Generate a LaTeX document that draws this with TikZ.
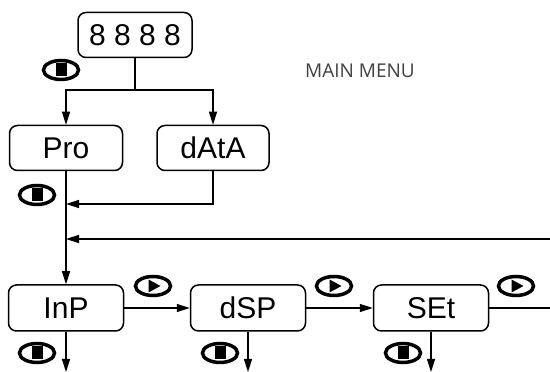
\documentclass[tikz,border=0pt]{standalone}
\usepackage{fontspec}
\setmainfont{Liberation Sans}
\newfontfamily\menufont{Open Sans}
\usetikzlibrary{shapes.geometric, arrows.meta, positioning}

\begin{document}
\begin{tikzpicture}[x=1pt, y=1pt,
  dbox/.style={draw, line width=1.5pt, rounded corners=8pt, minimum width=114pt, minimum height=45pt, inner sep=0pt, font=\fontsize{30}{32}\selectfont},
  wire/.style={line width=1.5pt},
  arr/.style={wire, -{Triangle[length=13pt, width=8pt]}},
  keybtn/.style={draw, ellipse, line width=3.5pt, minimum width=35pt, minimum height=19pt, inner sep=0pt},
  stopkey/.style={keybtn, path picture={\fill ([shift={(-5.5pt,-6.5pt)}]path picture bounding box.center) rectangle ++(11pt,13pt);}},
  playkey/.style={keybtn, path picture={\fill ([shift={(-4.5pt,-6.5pt)}]path picture bounding box.center) -- ++(0,13pt) -- ++(12pt,-6.5pt) -- cycle;}}
]
  \useasboundingbox (0,0) rectangle (550,372);

  \node[dbox] (disp) at (135,337) {8 8 8 8};
  \node[dbox, minimum width=113pt] (pro) at (66,224) {Pro};
  \node[dbox, minimum width=112pt] (data) at (213,224) {dAtA};
  \node[dbox, minimum width=115pt, minimum height=46pt] (inp) at (66,64) {InP};
  \node[dbox, minimum width=115pt, minimum height=46pt] (dsp) at (248,64) {dSP};
  \node[dbox, minimum width=115pt, minimum height=46pt] (set) at (431,64) {SEt};
  \node[font=\menufont\fontsize{19}{22}\selectfont, text=black!75] (menu) at (360,301) {MAIN MENU};

  \node[stopkey] (stopa) at (61,302) {};
  \node[stopkey] (stopb) at (37,177) {};
  \node[stopkey] (stopc) at (37,19) {};
  \node[stopkey] (stopd) at (220,19) {};
  \node[stopkey] (stope) at (403,19) {};
  \node[playkey] (playa) at (153,86) {};
  \node[playkey] (playb) at (334,86) {};
  \node[playkey] (playc) at (516,86) {};

  \coordinate (split) at (135,282);
  \coordinate (merge) at (66,168);
  \coordinate (back) at (66,133);
  \coordinate (backin) at (550,133);
  \coordinate (setout) at (550,64);
  \coordinate (inpout) at (inp.south |- 0,0);
  \coordinate (dspout) at (dsp.south |- 0,0);
  \coordinate (setdown) at (set.south |- 0,0);

  \draw[wire] (disp.south) -- (split);
  \draw[arr] (split) -| (pro.north);
  \draw[arr] (split) -| (data.north);
  \draw[arr] (pro.south) -- (inp.north);
  \draw[arr] (data.south) |- (merge);
  \draw[arr] (backin) -- (back);
  \draw[arr] (inp.east) -- (dsp.west);
  \draw[arr] (dsp.east) -- (set.west);
  \draw[wire] (set.east) -- (setout);
  \draw[arr] (inp.south) -- (inpout);
  \draw[arr] (dsp.south) -- (dspout);
  \draw[arr] (set.south) -- (setdown);
\end{tikzpicture}
\end{document}
